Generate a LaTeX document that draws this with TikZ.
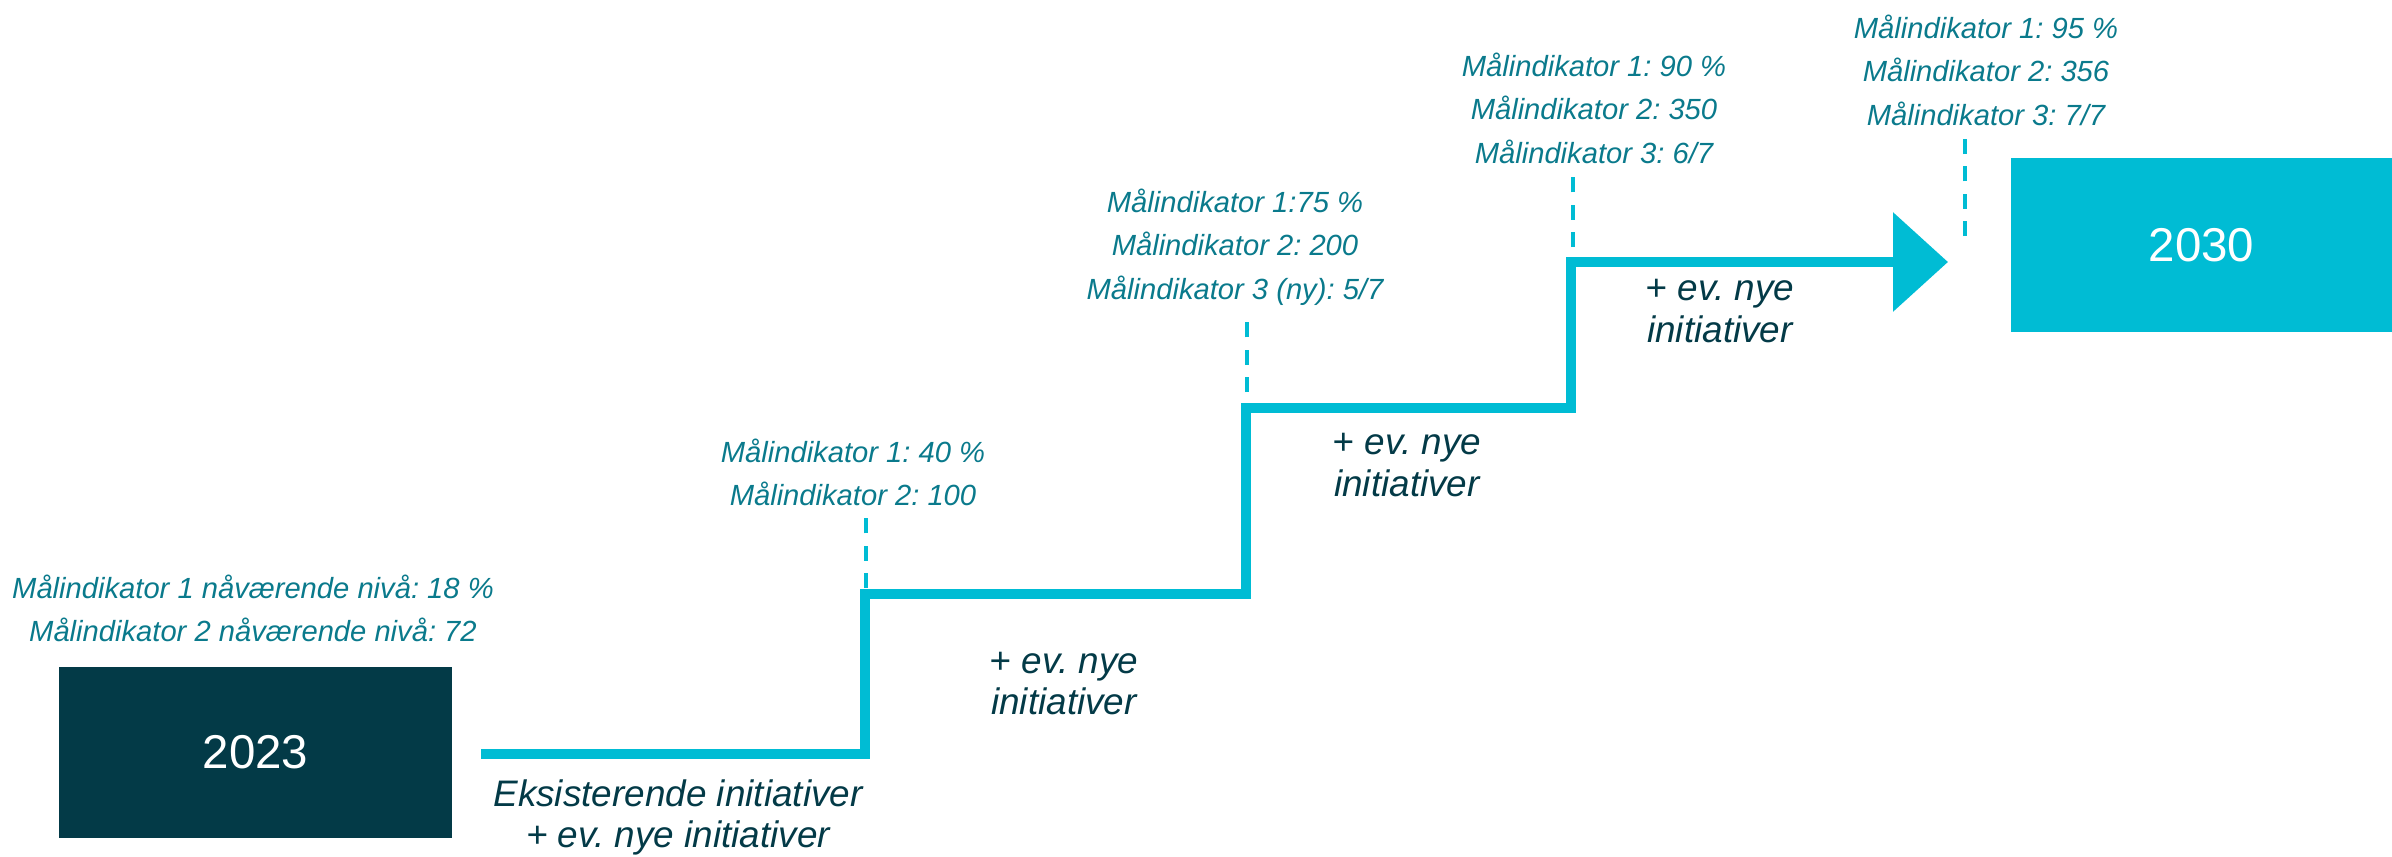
\documentclass[tikz,border=0pt]{standalone}
\usepackage{fontspec}
\setmainfont{Liberation Sans}
\usetikzlibrary{arrows.meta}

\definecolor{darkteal}{HTML}{033A47}
\definecolor{stepcyan}{HTML}{00BCD4}
\definecolor{goalteal}{HTML}{0A7A8C}

\begin{document}
\frenchspacing
\begin{tikzpicture}[
    yearbox/.style={inner sep=0pt,text=white,font=\fontsize{13.5}{16}\selectfont},
    goal/.style={align=center,text=goalteal,font=\fontsize{8.3}{12.4}\selectfont\itshape},
    initiv/.style={align=center,text=darkteal,font=\fontsize{10.5}{11.9}\selectfont\itshape},
    stair/.style={stepcyan,line width=3.1pt},
    tick/.style={stepcyan,line width=1pt,dash pattern=on 0.15cm off 0.123cm}
]
\useasboundingbox (0,0) rectangle (23.92,8.56);

% start and goal
\node[yearbox,fill=darkteal,minimum width=3.93cm,minimum height=1.71cm] (y2023) at (2.555,1.035) {2023};
\node[yearbox,fill=stepcyan,minimum width=3.81cm,minimum height=1.74cm] (y2030) at (22.015,6.11) {2030};

% the steps
\coordinate (start) at (4.81,1.02);
\coordinate (p1) at (8.65,2.62);
\coordinate (p2) at (12.46,4.48);
\coordinate (p3) at (15.71,5.94);
\coordinate (tip) at (19.48,5.94);
\draw[stair,-{Triangle[length=5.5mm,width=9.7mm]}] (start) -| (p1) -| (p2) -| (p3) -- (tip);

% ticks
\draw[tick] (8.66,2.68) -- (8.66,3.39);
\draw[tick] (12.47,4.64) -- (12.47,5.36);
\draw[tick] (15.73,6.09) -- (15.73,6.80);
\draw[tick] (19.65,6.20) -- (19.65,7.19);

% targets
\node[goal] (lbl0) at (2.53,2.475) {Målindikator 1 nåværende nivå: 18 \%\\Målindikator 2 nåværende nivå: 72};
\node[goal] (lbl1) at (8.53,3.835) {Målindikator 1: 40 \%\\Målindikator 2: 100};
\node[goal] (lbl2) at (12.35,6.09) {Målindikator 1:75 \%\\Målindikator 2: 200\\Målindikator 3 (ny): 5/7};
\node[goal] (lbl3) at (15.94,7.48) {Målindikator 1: 90 \%\\Målindikator 2: 350\\Målindikator 3: 6/7};
\node[goal] (lbl4) at (19.86,7.86) {Målindikator 1: 95 \%\\Målindikator 2: 356\\Målindikator 3: 7/7};

% initiatives
\node[initiv] (init0) at (6.78,0.385) {Eksisterende initiativer\\+ ev. nye initiativer};
\node[initiv] (init1) at (10.64,1.725) {+ ev. nye\\initiativer};
\node[initiv] (init2) at (14.07,3.91) {+ ev. nye\\initiativer};
\node[initiv] (init3) at (17.20,5.45) {+ ev. nye\\initiativer};
\end{tikzpicture}
\end{document}
